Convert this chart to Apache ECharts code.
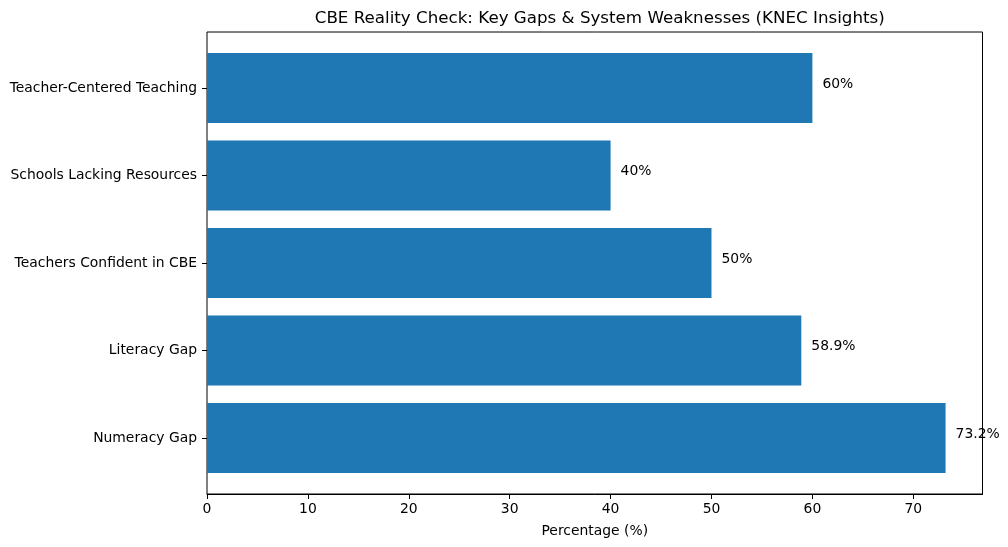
<!DOCTYPE html>
<html>
<head>
<meta charset="utf-8">
<script src="https://cdn.jsdelivr.net/npm/echarts@6/dist/echarts.min.js"></script>
<style>html,body{margin:0;padding:0;background:#fff;}#c{width:1008px;height:547px;}</style>
</head>
<body>
<div id="c"></div>
<script>
const categories = ['Numeracy Gap', 'Literacy Gap', 'Teachers Confident in CBE', 'Schools Lacking Resources', 'Teacher-Centered Teaching'];
const values = [73.2, 58.9, 50, 40, 60];
const xTicks = [0, 10, 20, 30, 40, 50, 60, 70];
const titleText = 'CBE Reality Check: Key Gaps & System Weaknesses (KNEC Insights)';
const xName = 'Percentage (%)';

const FONT = 'DejaVu Sans';
const FS = 13.9;
const xMax = 76.86;
const L = 207, R = 1008 - 982.5, T = 32, B = 547 - 494;
const band = 87.5;
const pad = (494 - 32 - band * 5) / 2;

const chart = echarts.init(document.getElementById('c'), null, {renderer: 'canvas'});
chart.setOption({
  animation: false,
  backgroundColor: '#fff',
  title: {
    text: titleText,
    left: (L + 982.5) / 2, textAlign: 'center', top: 5,
    textStyle: {fontFamily: FONT, fontSize: 16.7, fontWeight: 'normal', color: '#000'}
  },
  grid: [
    {left: L, right: R, top: T, bottom: B, show: true, borderColor: '#000', borderWidth: 1, backgroundColor: 'transparent'},
    {left: L, right: R, top: T + pad, bottom: B + pad}
  ],
  xAxis: [
    {
      type: 'value', gridIndex: 0, min: 0, max: xMax, interval: 10,
      name: xName, nameLocation: 'middle', nameGap: 30,
      nameTextStyle: {fontFamily: FONT, fontSize: FS, color: '#000'},
      axisLine: {show: true, lineStyle: {color: '#000', width: 1}},
      axisTick: {show: true, length: 5, lineStyle: {color: '#000'}},
      axisLabel: {
        fontFamily: FONT, fontSize: FS, color: '#000', margin: 8,
        formatter: v => (xTicks.indexOf(v) >= 0 ? String(v) : ''),
        showMaxLabel: false
      },
      splitLine: {show: false}
    },
    {
      type: 'value', gridIndex: 1, min: 0, max: xMax, show: false
    }
  ],
  yAxis: [
    {type: 'value', gridIndex: 0, show: false},
    {
      type: 'category', gridIndex: 1, data: categories,
      axisLine: {show: false},
      axisTick: {show: true, alignWithLabel: true, length: 5, lineStyle: {color: '#000'}},
      axisLabel: {fontFamily: FONT, fontSize: FS, color: '#000', margin: 10, padding: [5, 0, 0, 0]},
      splitLine: {show: false}
    }
  ],
  series: [{
    type: 'bar', xAxisIndex: 1, yAxisIndex: 1,
    data: values, barWidth: '80%',
    itemStyle: {color: '#1f77b4'},
    label: {
      show: true, position: 'right', distance: 10, offset: [0, -4],
      fontFamily: FONT, fontSize: FS, color: '#000',
      formatter: p => p.value + '%'
    }
  }]
});
</script>
</body>
</html>
